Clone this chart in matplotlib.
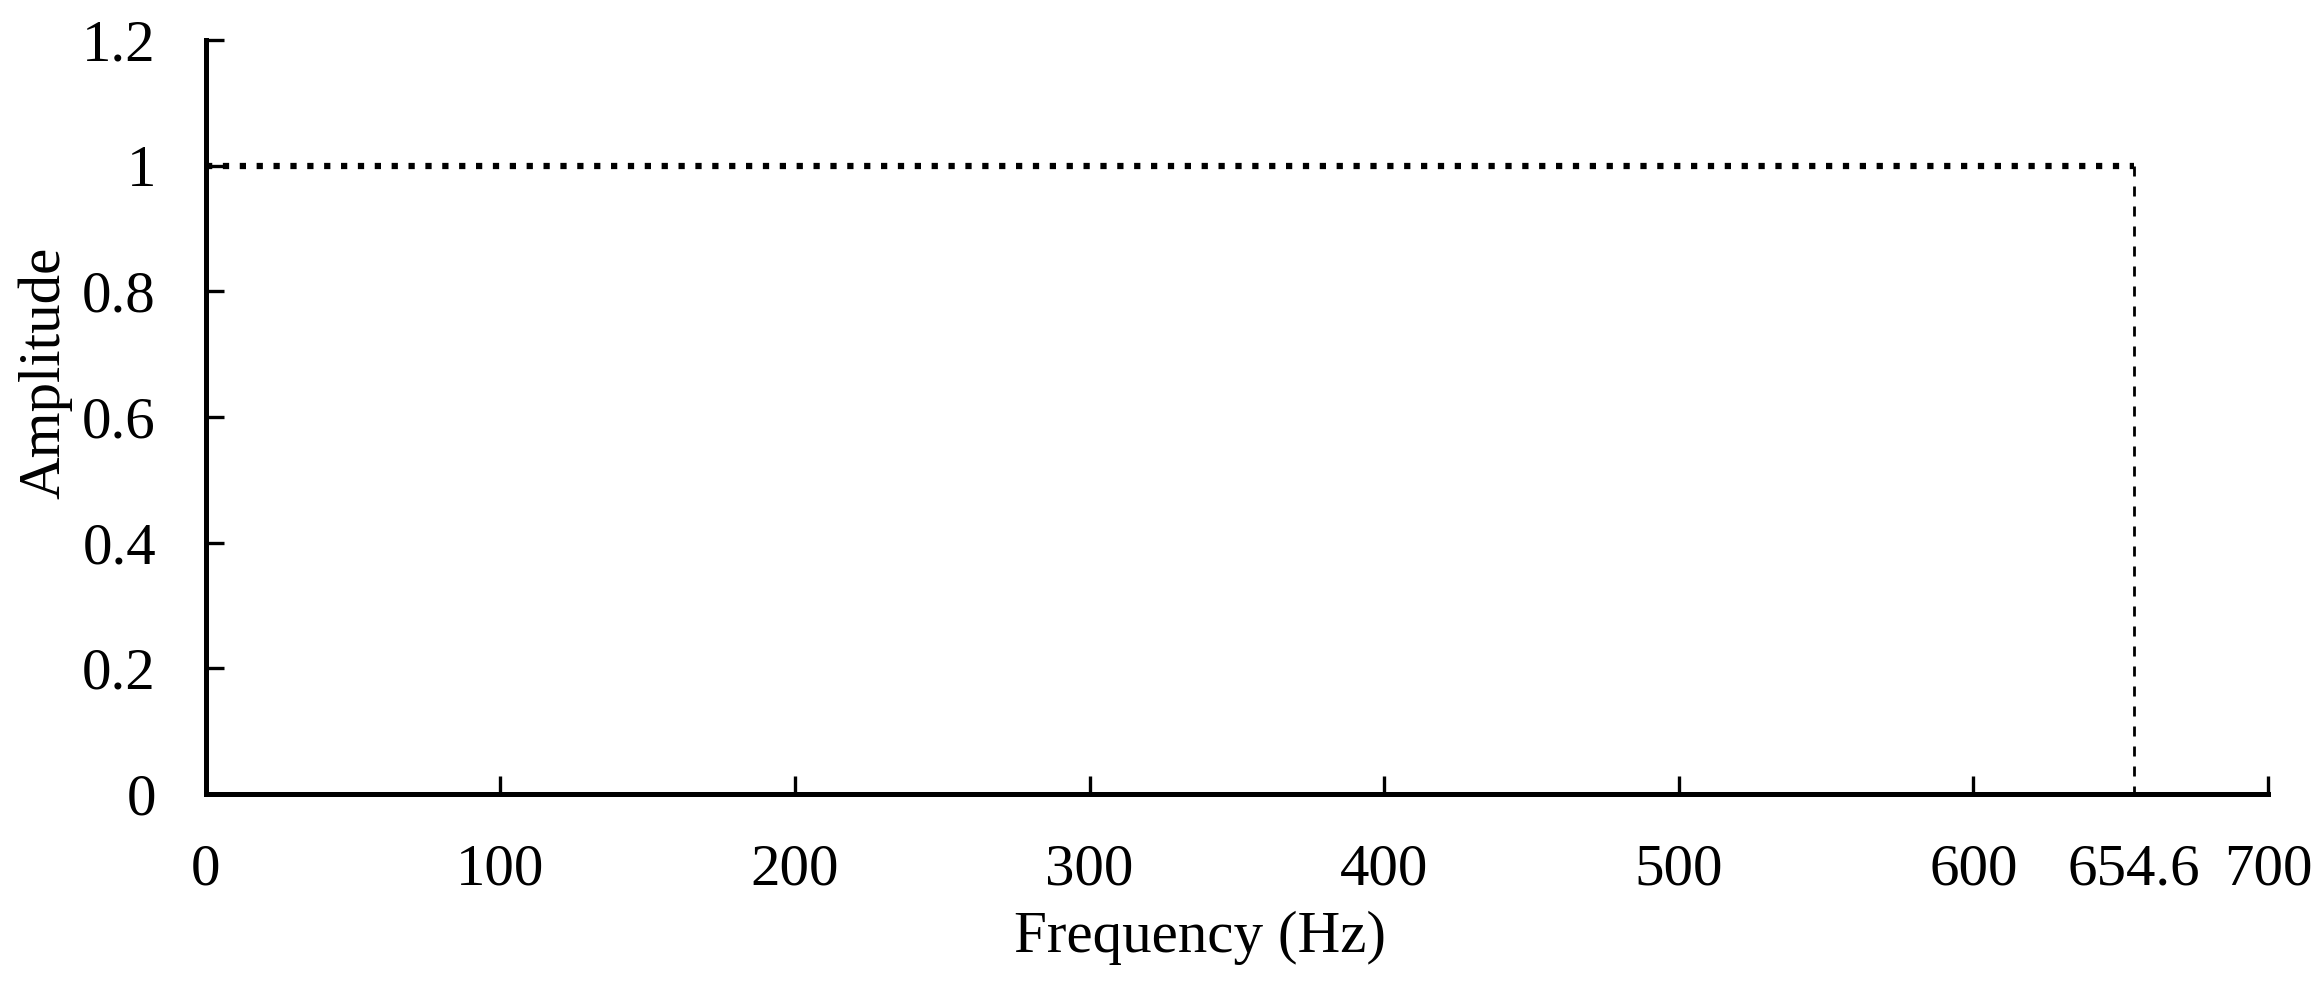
import matplotlib.pyplot as plt

# cutoff frequency and ideal passband
f_cut = 654.6
freq = [0, f_cut]
amp = [1, 1]
x_ticks = [0, 100, 200, 300, 400, 500, 600, 700]
y_ticks = [0, 0.2, 0.4, 0.6, 0.8, 1.0, 1.2]
y_labels = ['0', '0.2', '0.4', '0.6', '0.8', '1', '1.2']

plt.rcParams['font.family'] = ['Liberation Serif', 'DejaVu Serif']

fig = plt.figure(figsize=(23.24, 9.9), dpi=100)
ax = fig.add_axes([0.0886, 0.198, 0.8873, 0.7616])

# passband: dotted line at amplitude 1
ax.plot(freq, amp, color='black', linewidth=4.5, linestyle=(0, (1, 1.7)),
        solid_capstyle='butt', dash_capstyle='butt')
# cutoff: dashed vertical line
ax.plot([f_cut, f_cut], [amp[1], 0], color='black', linewidth=2,
        linestyle=(0, (3.6, 3.6)), clip_on=False)

ax.set_xlim(0, 700)
ax.set_ylim(0, 1.2)
ax.set_xticks(x_ticks)
ax.set_xticks([f_cut], minor=True)
ax.set_xticklabels(['654.6'], minor=True)
ax.set_yticks(y_ticks)
ax.set_yticklabels(y_labels)

for s in ['top', 'right']:
    ax.spines[s].set_visible(False)
for s in ['left', 'bottom']:
    ax.spines[s].set_linewidth(3.6)

ax.tick_params(axis='both', which='major', direction='in', length=13, width=2.4,
               labelsize=42.5, pad=36)
ax.tick_params(axis='x', which='minor', length=0, labelsize=42.5, pad=36)

fig.text(1200 / 2324, 1 - 938 / 990, 'Frequency (Hz)', fontsize=42.5,
         ha='center', va='center')
fig.text(45 / 2324, 1 - 373 / 990, 'Amplitude', fontsize=42.5,
         ha='center', va='center', rotation=90)

fig.savefig('out.png', dpi=100)
